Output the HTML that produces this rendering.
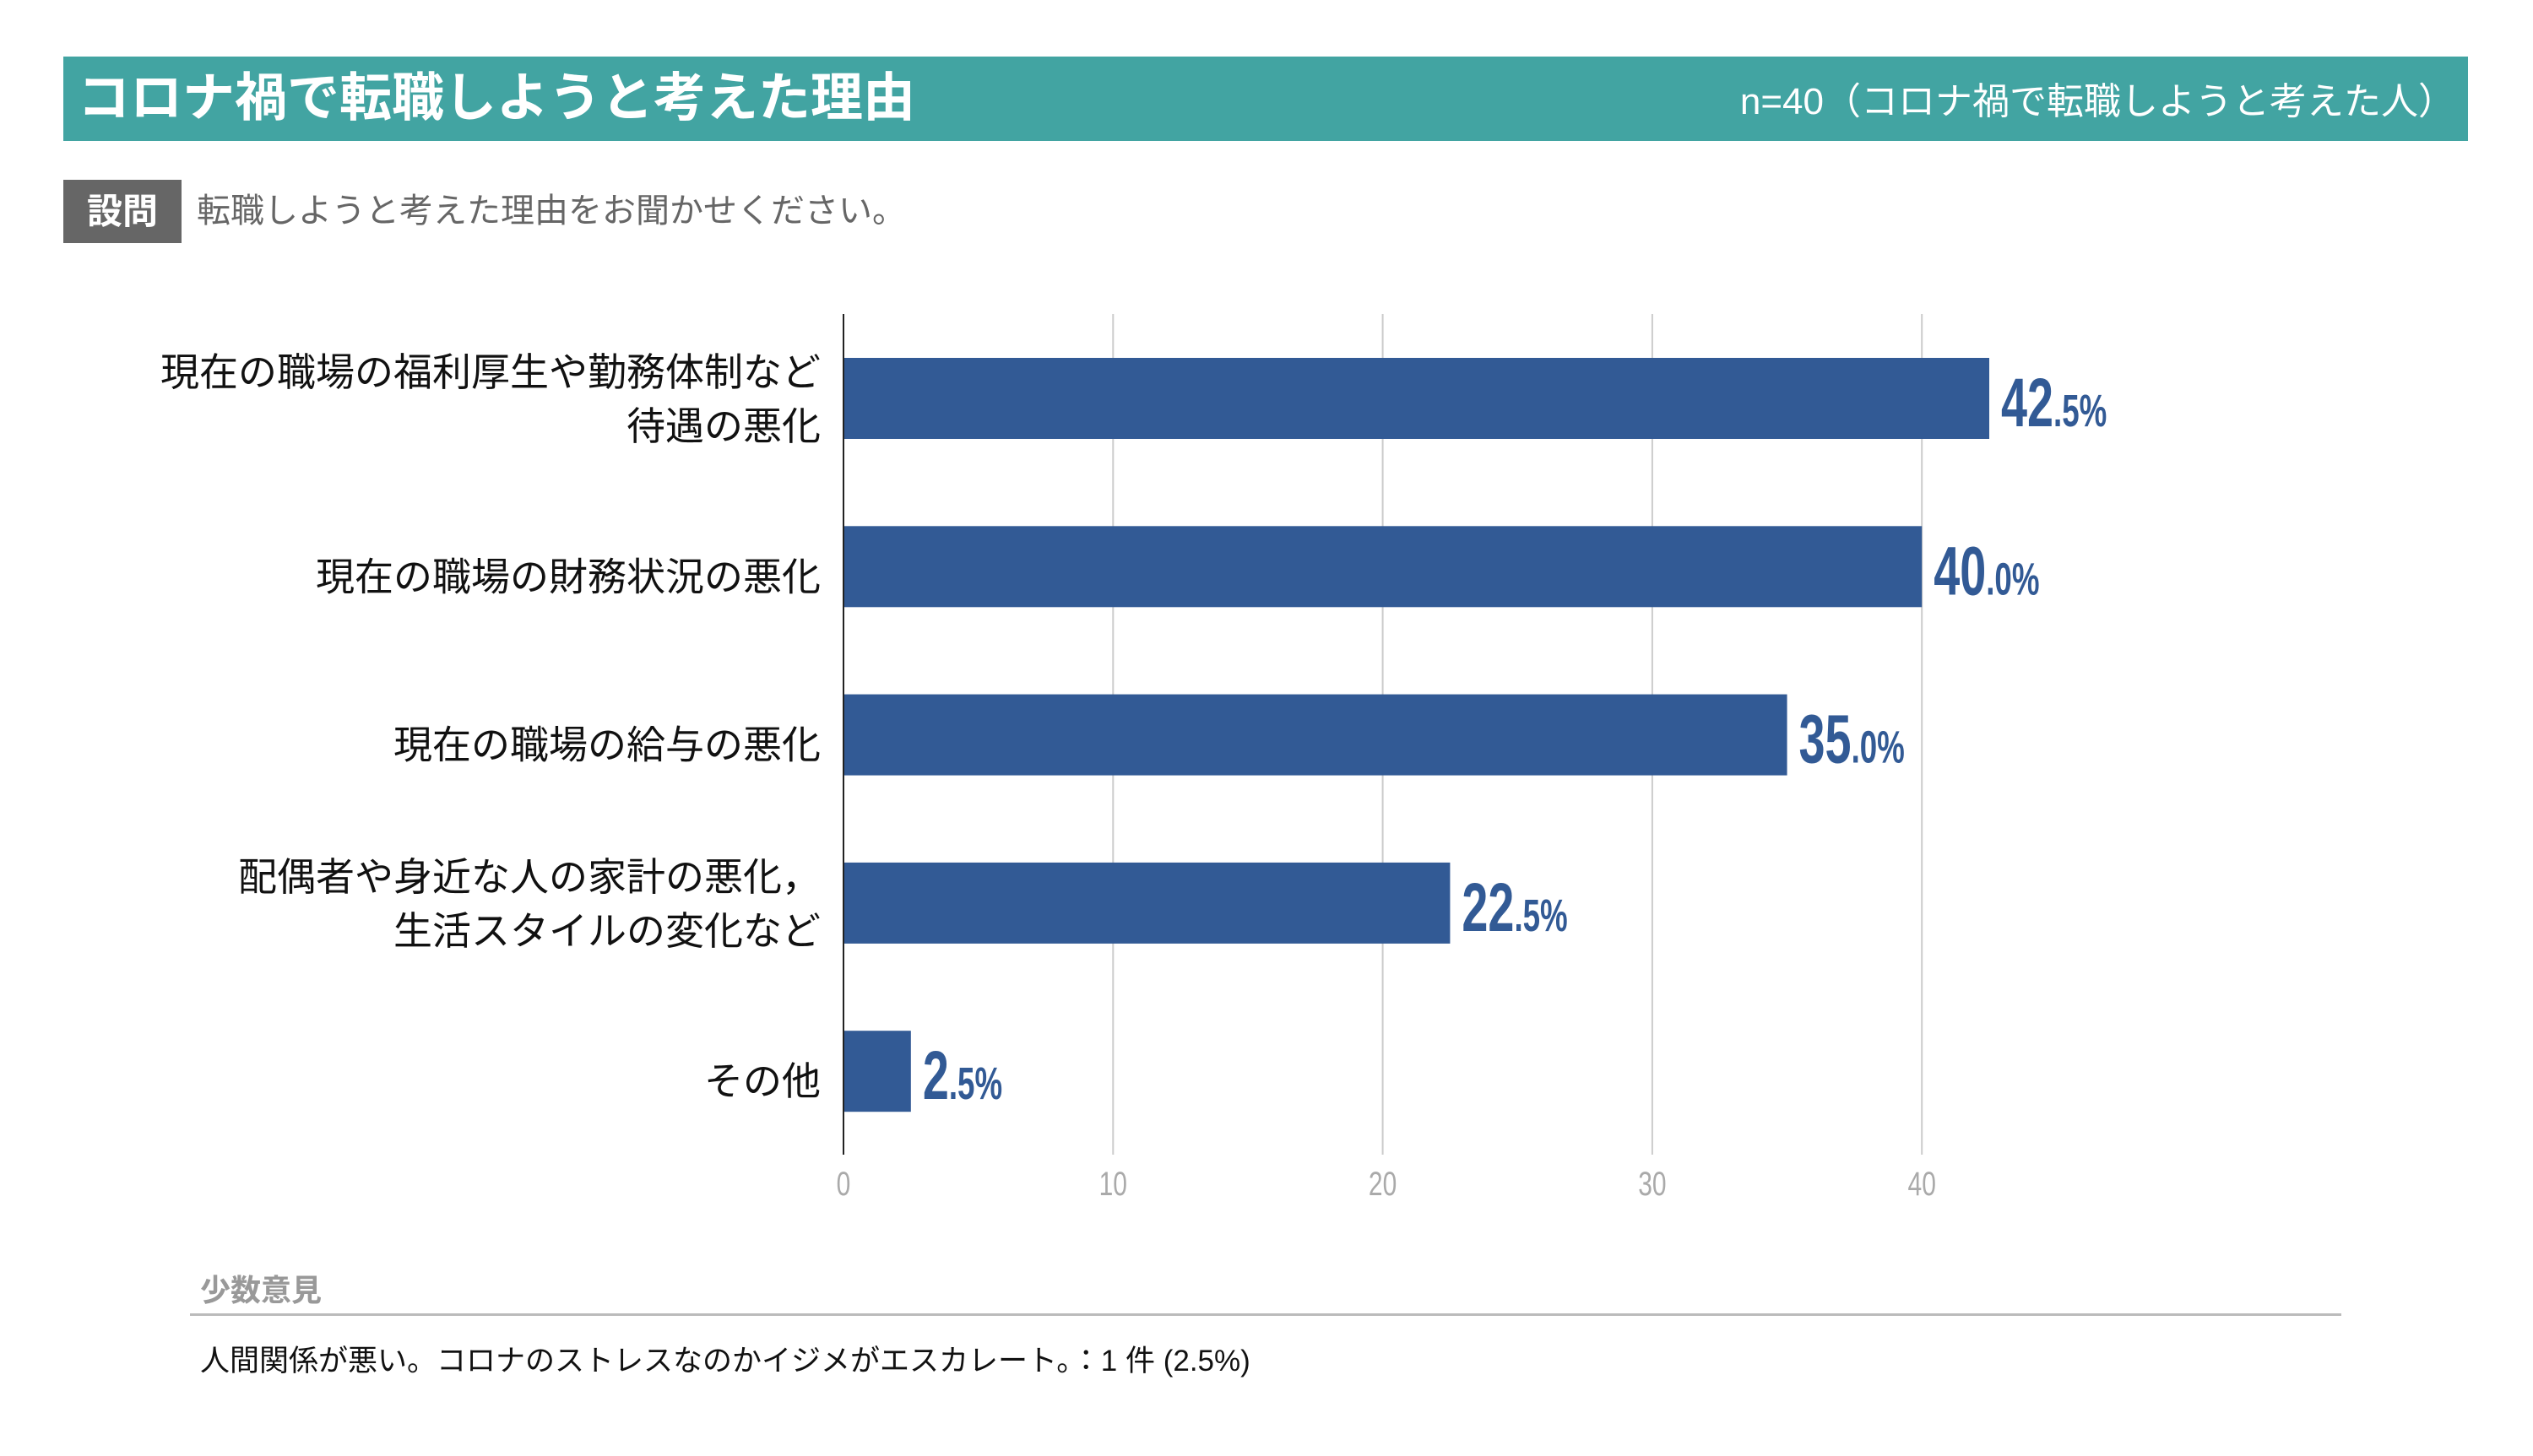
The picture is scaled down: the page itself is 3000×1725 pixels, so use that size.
<!DOCTYPE html>
<html><head><meta charset="utf-8">
<style>
html,body{margin:0;padding:0;background:#fff;}
body{width:3000px;height:1725px;position:relative;overflow:hidden;font-family:"Liberation Sans","Noto Sans CJK JP",sans-serif;}
.hdr{position:absolute;left:75px;top:67px;width:2848px;height:100px;background:#42a4a2;}
.ttl{position:absolute;left:92px;top:67px;height:100px;line-height:100px;color:#fff;font-weight:bold;font-size:62px;}
.n{position:absolute;right:92px;top:67px;height:100px;line-height:108px;color:#fff;font-size:44px;}
.qbox{position:absolute;left:75px;top:213px;width:140px;height:75px;background:#666;color:#fff;font-weight:bold;font-size:42px;line-height:75px;text-align:center;}
.q{position:absolute;left:233px;top:213px;height:75px;line-height:75px;color:#666;font-size:40px;}
.minor{position:absolute;left:237px;top:1500px;color:#999;font-weight:bold;font-size:36px;}
.sep{position:absolute;left:225px;top:1556px;width:2548px;height:3px;background:#bbb;}
.foot{position:absolute;left:237px;top:1584px;color:#111;font-size:35px;}
svg{position:absolute;left:0;top:0;}
</style></head><body>
<div class="hdr"></div>
<div class="ttl">コロナ禍で転職しようと考えた理由</div>
<div class="n">n=40（コロナ禍で転職しようと考えた人）</div>
<div class="qbox">設問</div>
<div class="q">転職しようと考えた理由をお聞かせください。</div>
<svg id="chart" width="3000" height="1725"></svg>
<div class="minor">少数意見</div>
<div class="sep"></div>
<div class="foot">人間関係が悪い。コロナのストレスなのかイジメがエスカレート。：1 件 (2.5%)</div>
<script>
const categories=[["現在の職場の福利厚生や勤務体制など","待遇の悪化"],["現在の職場の財務状況の悪化"],["現在の職場の給与の悪化"],["配偶者や身近な人の家計の悪化，","生活スタイルの変化など"],["その他"]];
const values=[42.5,40.0,35.0,22.5,2.5];
const ticks=[0,10,20,30,40];
const NS="http://www.w3.org/2000/svg";
const svg=document.getElementById('chart');
const x0=999,pxPer=31.93,top0=424,step=199.3,barH=96,axTop=372,axBot=1368;
const xs=v=>x0+v*pxPer;
function mk(t,a){const e=document.createElementNS(NS,t);for(const k in a)e.setAttribute(k,a[k]);svg.appendChild(e);return e;}
ticks.forEach((t,i)=>{
  if(t>0){const l=mk('line',{x1:xs(t),x2:xs(t),y1:axTop,y2:axBot,stroke:'#ccc','stroke-width':2});
  
  }
  const tx=mk('text',{transform:'translate('+xs(t)+',1416) scale(0.75,1)','text-anchor':'middle',fill:'#aaa','font-size':40});
  tx.textContent=t;
  
  
});
values.forEach((v,i)=>{
  const y=top0+i*step;
  const r=mk('rect',{x:x0,y:y,width:xs(v)-x0,height:barH,fill:'#325a95'});
  
  
  const s=v.toFixed(1).split('.');
  const t=mk('text',{transform:'translate('+(xs(v)+14)+','+(y+barH/2+33)+') scale(0.68,1)',fill:'#325a95','font-weight':'bold','font-size':82});
  t.innerHTML=s[0]+'<tspan font-size="54">.'+s[1]+'%</tspan>';
  
  
  const lines=categories[i];
  lines.forEach((ln,j)=>{
    const ly=y+barH/2+16+(lines.length===2?(j===0?-31:33):12);
    const lt=mk('text',{x:972,y:ly,'text-anchor':'end',fill:'#111','font-size':46});
    lt.textContent=ln;
    
    
  });
});
const ax=mk('line',{x1:x0,x2:x0,y1:axTop,y2:axBot,stroke:'#222','stroke-width':2});


</script>
</body></html>
